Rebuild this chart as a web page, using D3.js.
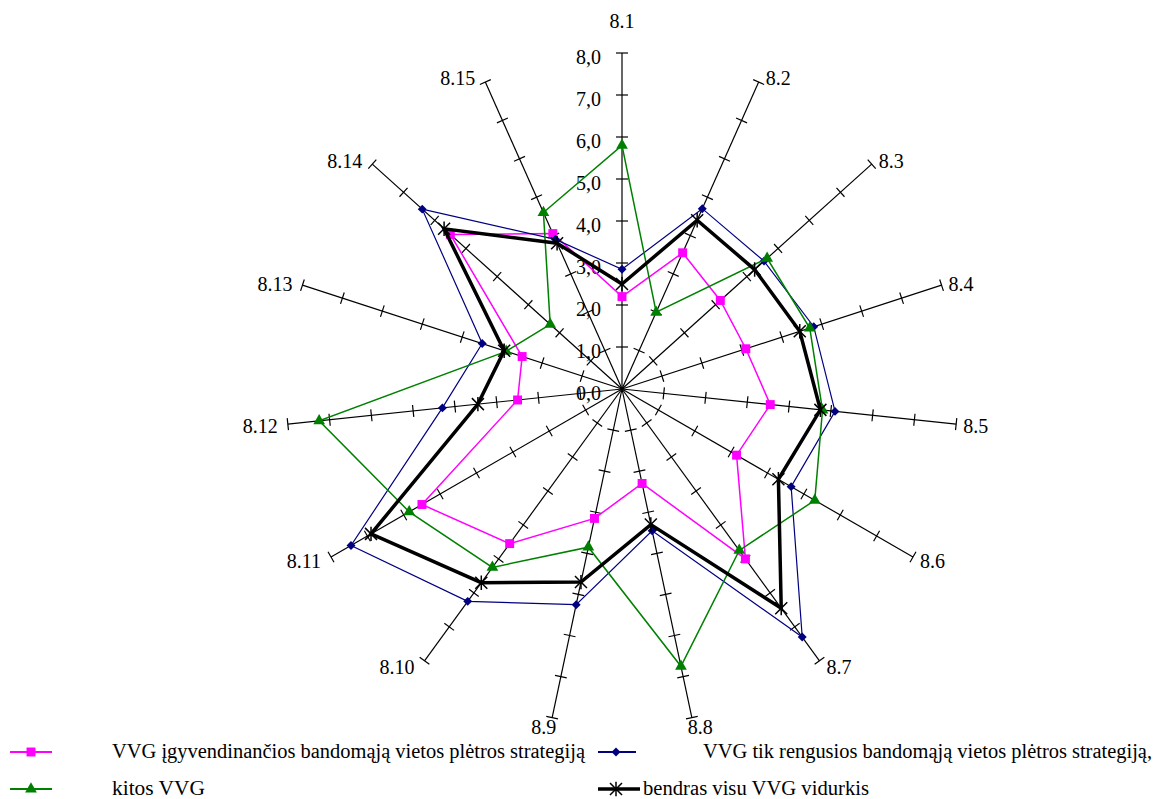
<!DOCTYPE html>
<html><head><meta charset="utf-8">
<script src="https://cdn.jsdelivr.net/npm/d3@7"></script>
<style>
body{margin:0;background:#fff}
svg{display:block}
</style>
</head><body>
<svg id="chart" width="1154" height="799" font-family="'Liberation Serif', 'DejaVu Serif', 'Times New Roman', serif"></svg>
<script>
const categories = ["8.1","8.2","8.3","8.4","8.5","8.6","8.7","8.8","8.9","8.10","8.11","8.12","8.13","8.14","8.15"];
const tickValues = [0,1,2,3,4,5,6,7,8];
const tickLabels = ["0,0","1,0","2,0","3,0","4,0","5,0","6,0","7,0","8,0"];
const seriesNames = [
  "VVG įgyvendinančios bandomąją vietos plėtros strategiją",
  "VVG tik rengusios bandomąją vietos plėtros strategiją,",
  "kitos VVG",
  "bendras visu VVG vidurkis"
];
const implementingValues = [2.2, 3.55, 3.15, 3.1, 3.55, 3.15, 5.0, 2.3, 3.15, 4.55, 5.5, 2.5, 2.5, 5.5, 4.05];
const preparedOnlyValues = [2.85, 4.7, 4.55, 4.8, 5.1, 4.65, 7.3, 3.45, 5.25, 6.25, 7.45, 4.3, 3.5, 6.4, 3.9];
const otherValues        = [5.8, 2.0, 4.65, 4.7, 4.8, 5.3, 4.75, 6.75, 3.85, 5.25, 5.85, 7.25, 2.9, 2.3, 4.6];
const averageValues      = [2.5, 4.4, 4.25, 4.45, 4.75, 4.3, 6.45, 3.3, 4.7, 5.7, 6.9, 3.45, 2.95, 5.7, 3.8];

const svg = d3.select("#chart");
const cx = 622, cy = 389, R = 336;
const r = d3.scaleLinear().domain([0, 8]).range([0, R]);
const ang = d3.scaleLinear().domain([0, categories.length]).range([0, 2 * Math.PI]);
const pt = (i, v) => [cx + r(v) * Math.sin(ang(i)), cy - r(v) * Math.cos(ang(i))];

const g = svg.append("g");

// axes
categories.forEach((c, i) => {
  const a = ang(i), s = Math.sin(a), co = Math.cos(a);
  const [x2, y2] = pt(i, 8);
  g.append("line").attr("x1", cx).attr("y1", cy).attr("x2", x2).attr("y2", y2)
    .attr("stroke", "#000").attr("stroke-width", 1.2);
  tickValues.slice(1).forEach(t => {
    const [tx, ty] = pt(i, t);
    const px = co * 6, py = s * 6;
    g.append("line").attr("x1", tx - px).attr("y1", ty - py).attr("x2", tx + px).attr("y2", ty + py)
      .attr("stroke", "#000").attr("stroke-width", 1.2);
  });
  let x, y, anchor;
  if (Math.abs(s) < 0.3) {
    anchor = "middle";
    x = x2 + s * 40;
    y = co > 0 ? y2 - 25 : y2 + 16;
  } else {
    anchor = s > 0 ? "start" : "end";
    x = x2 + (s > 0 ? 7 : -10);
    y = y2 + 8 - 6 * co;
  }
  g.append("text").attr("x", x).attr("y", y).attr("text-anchor", anchor)
    .attr("font-size", 20).text(c);
});

// tick labels on first axis
tickValues.forEach((t, k) => {
  const [tx, ty] = pt(0, t);
  g.append("text").attr("x", tx - 21).attr("y", ty + 11).attr("text-anchor", "end")
    .attr("font-size", 20).text(tickLabels[k]);
});

const line = d3.lineRadial()
  .angle((d, i) => ang(i))
  .radius(d => r(d))
  .curve(d3.curveLinearClosed);

const asterisk = (h) => `M${-h},${-h}L${h},${h}M${-h},${h}L${h},${-h}M0,${-h * 1.2}L0,${h * 1.2}`;

const series = [
  {values: implementingValues, color: "#ff00ff", width: 1.5, marker: "square"},
  {values: preparedOnlyValues, color: "#000080", width: 1.2, marker: "diamond"},
  {values: otherValues, color: "#008000", width: 1.5, marker: "triangle"},
  {values: averageValues, color: "#000000", width: 3.5, marker: "asterisk"}
];

function drawMarker(sel, type, color) {
  if (type === "asterisk") {
    sel.append("path").attr("d", asterisk(6)).attr("stroke", color).attr("stroke-width", 1.5).attr("fill", "none");
  } else if (type === "diamond") {
    sel.append("path").attr("d", d3.symbol().type(d3.symbolSquare).size(40)())
      .attr("transform", "rotate(45)").attr("fill", color);
  } else {
    const t = type === "square" ? d3.symbolSquare : d3.symbolTriangle;
    const size = type === "square" ? 80 : 60;
    sel.append("path").attr("d", d3.symbol().type(t).size(size)()).attr("fill", color);
  }
}

series.forEach(s => {
  g.append("path").attr("d", line(s.values))
    .attr("transform", `translate(${cx},${cy})`)
    .attr("fill", "none").attr("stroke", s.color).attr("stroke-width", s.width)
    .attr("stroke-linejoin", "miter");
  s.values.forEach((v, i) => {
    const [x, y] = pt(i, v);
    drawMarker(g.append("g").attr("transform", `translate(${x},${y})`), s.marker, s.color);
  });
});

// legend
const legendItems = [
  {x0: 10, x1: 52, mx: 31, y: 752, tx: 112, tw: 473},
  {x0: 598, x1: 636, mx: 616, y: 752, tx: 703, tw: 449},
  {x0: 10, x1: 52, mx: 31, y: 789, tx: 112, tw: 93},
  {x0: 598, x1: 640, mx: 616, y: 789, tx: 643, tw: 226}
];
series.forEach((s, i) => {
  const L = legendItems[i];
  const lg = svg.append("g");
  lg.append("line").attr("x1", L.x0).attr("x2", L.x1).attr("y1", L.y).attr("y2", L.y)
    .attr("stroke", s.color).attr("stroke-width", s.width === 3.5 ? 3.5 : 2);
  drawMarker(lg.append("g").attr("transform", `translate(${L.mx},${L.y})`), s.marker, s.color);
  lg.append("text").attr("x", L.tx).attr("y", L.y + 6).attr("font-size", 20)
    .attr("textLength", L.tw).attr("lengthAdjust", "spacingAndGlyphs").text(seriesNames[i]);
});
</script>
</body></html>
